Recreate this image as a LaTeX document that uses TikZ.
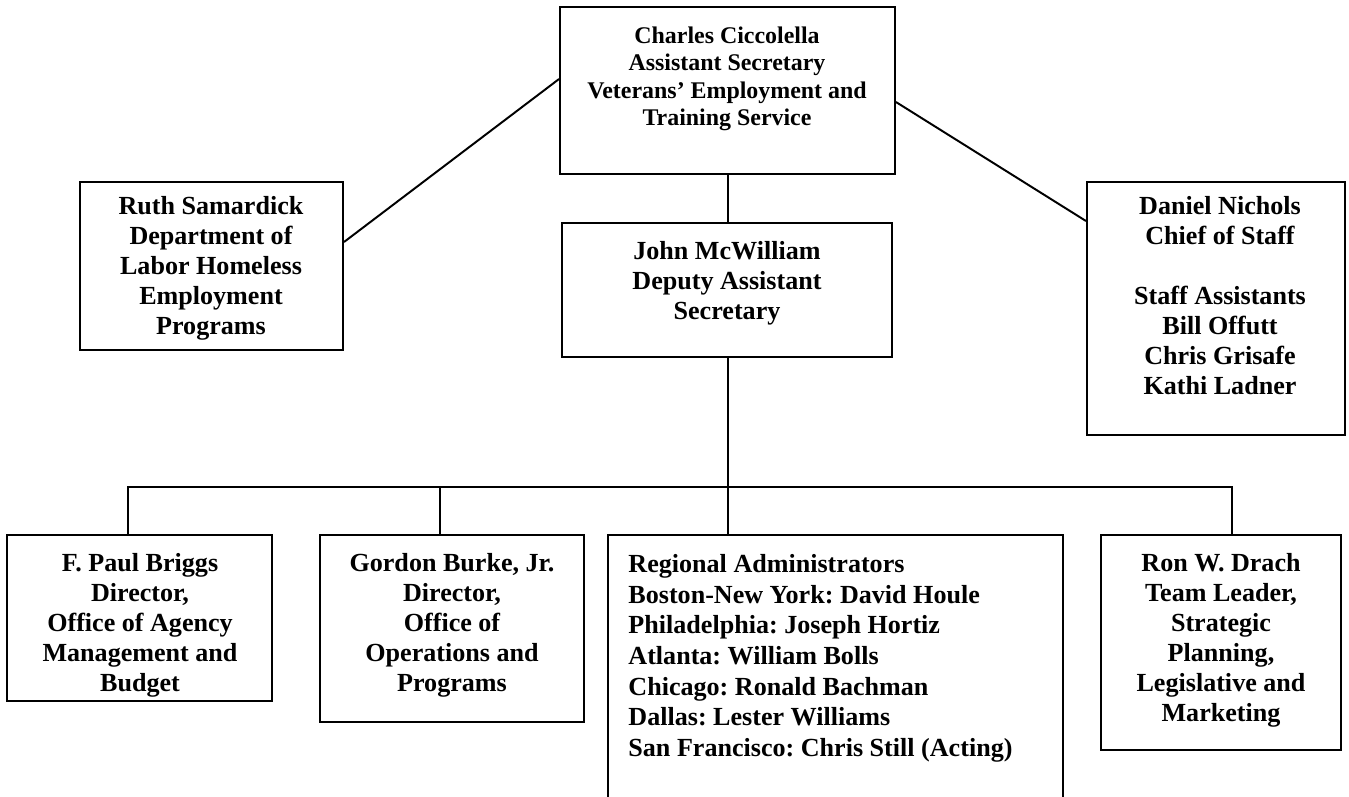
\documentclass[tikz,border=0pt]{standalone}
\usepackage{fontspec}
\setmainfont{Liberation Serif}
\frenchspacing
\usetikzlibrary{fit,calc}
\begin{document}
\begin{tikzpicture}[x=0.46pt,y=-0.46pt,
  box/.style={draw, line width=0.9pt, inner sep=0pt},
  conn/.style={line width=0.9pt},
  lbl/.style={inner sep=0pt, align=center, anchor=north, font=\bfseries\fontsize{12}{13.8}\selectfont},
  lblsmall/.style={lbl, font=\bfseries\fontsize{11}{12.65}\selectfont},
  lblleft/.style={inner sep=0pt, align=left, anchor=north west, font=\bfseries\fontsize{12}{14.1}\selectfont}]
\clip (0,0) rectangle (1349,796);
\fill[white] (0,0) rectangle (1349,796);
% boxes
\node[box, fit={(560,7) (895,174)}] (top) {};
\node[box, fit={(80,182) (343,350)}] (ruth) {};
\node[box, fit={(562,223) (892,357)}] (john) {};
\node[box, fit={(1087,182) (1345,435)}] (daniel) {};
\node[box, fit={(7,535) (272,701)}] (paul) {};
\node[box, fit={(320,535) (584,722)}] (gordon) {};
\node[box, fit={(608,535) (1063,830)}] (regional) {};
\node[box, fit={(1101,535) (1341,750)}] (ron) {};
% texts
\node[lblsmall] (ttop) at (727,26) {Charles Ciccolella\\Assistant Secretary\\Veterans’ Employment and\\Training Service};
\node[lbl] (truth) at (211,196) {Ruth Samardick\\Department of\\Labor Homeless\\Employment\\Programs};
\node[lbl] (tjohn) at (727,241) {John McWilliam\\Deputy Assistant\\Secretary};
\node[lbl] (tdaniel) at (1220,196) {Daniel Nichols\\Chief of Staff\\[13.8pt]Staff Assistants\\Bill Offutt\\Chris Grisafe\\Kathi Ladner};
\begin{scope}
\clip (paul.north west) rectangle (paul.south east);
\node[lbl] (tpaul) at (140,553) {F. Paul Briggs\\Director,\\Office of Agency\\Management and\\Budget};
\end{scope}
\node[lbl] (tgordon) at (452,553) {Gordon Burke, Jr.\\Director,\\Office of\\Operations and\\Programs};
\node[lblleft] (tregional) at (628,554) {Regional Administrators\\Boston-New York: David Houle\\Philadelphia: Joseph Hortiz\\Atlanta: William Bolls\\Chicago: Ronald Bachman\\Dallas: Lester Williams\\San Francisco: Chris Still (Acting)};
\node[lbl] (tron) at (1221,553) {Ron W. Drach\\Team Leader,\\Strategic\\Planning,\\Legislative and\\Marketing};
% connector points
\coordinate (bus) at (728,487);
\coordinate (d1) at (128,535);
\coordinate (d2) at (440,535);
\coordinate (d3) at (728,535);
\coordinate (d4) at (1232,535);
% connectors
\draw[conn] ($(top.north west)+(0,73)$) -- ($(ruth.north east)+(0,61)$);
\draw[conn] ($(top.north east)+(0,96)$) -- ($(daniel.north west)+(0,40)$);
\draw[conn] (top.south -| bus) -- (john.north -| bus);
\draw[conn] (john.south -| bus) -- (bus) -- (d3);
\draw[conn] (d1) -- (d1 |- bus) -- (d4 |- bus) -- (d4);
\draw[conn] (d2) -- (d2 |- bus);
\end{tikzpicture}
\end{document}
